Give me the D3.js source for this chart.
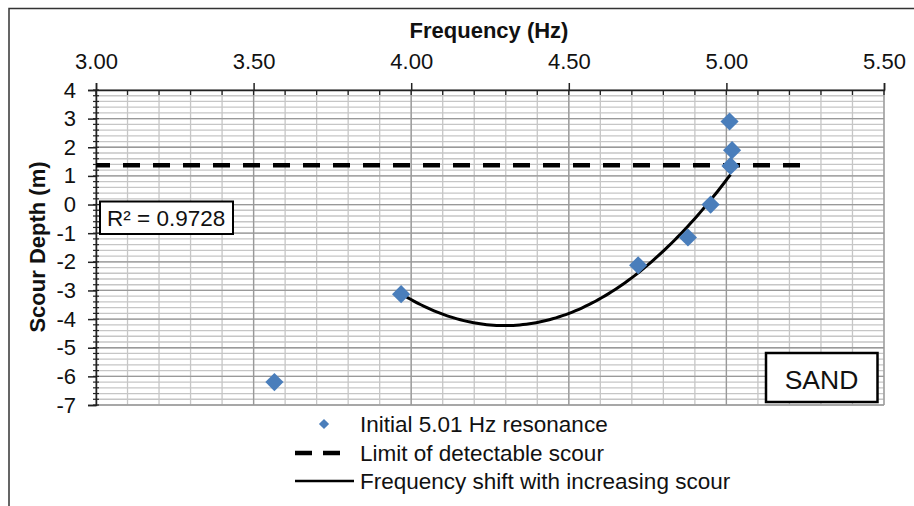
<!DOCTYPE html>
<html>
<head>
<meta charset="utf-8">
<script src="https://cdn.jsdelivr.net/npm/d3@7"></script>
<style>
  html, body { margin: 0; padding: 0; background: #fff; }
  svg { display: block; font-family: "Liberation Sans", Arial, sans-serif; }
</style>
</head>
<body>
<svg id="chart" width="914" height="506"></svg>
<script>
// Measured resonant frequency (Hz) against scour depth (m)
const frequency = [3.566, 3.968, 4.72, 4.878, 4.95, 5.013, 5.018, 5.01];
const scourDepth = [-6.2, -3.13, -2.12, -1.15, 0.0, 1.35, 1.9, 2.9];
// Points used for the quadratic trend line
const inTrend = [false, true, true, true, true, true, false, false];
const detectionLimit = 1.37;
const detectionLimitEnd = 5.25;
const rSquaredLabel = "R² = 0.9728";
const xTickLabels = ["3.00", "3.50", "4.00", "4.50", "5.00", "5.50"];
const yTickLabels = ["4", "3", "2", "1", "0", "-1", "-2", "-3", "-4", "-5", "-6", "-7"];
const legendLabels = ["Initial 5.01 Hz resonance", "Limit of detectable scour", "Frequency shift with increasing scour"];

const FONT = "Liberation Sans, Arial, sans-serif";
const svg = d3.select("#chart");
const x = d3.scaleLinear().domain([3.0, 5.5]).range([96, 884]);
const y = d3.scaleLinear().domain([-7, 4]).range([405, 90]);

// outer frame (top and left edges)
svg.append("path").attr("d", "M9,506 L9,8.5 L914,8.5").attr("fill", "none").attr("stroke", "#333").attr("stroke-width", 1.5);

const grid = svg.append("g");
// minor horizontal grid every 0.2 m
d3.range(-7, 4.0001, 0.2).forEach(v => {
  grid.append("line").attr("x1", x(3)).attr("x2", x(5.5)).attr("y1", y(v)).attr("y2", y(v))
    .attr("stroke", "#c6c6c6").attr("stroke-width", 1.3);
});
// minor vertical grid every 0.1 Hz
d3.range(3.0, 5.5001, 0.1).forEach(v => {
  grid.append("line").attr("x1", x(v)).attr("x2", x(v)).attr("y1", y(4)).attr("y2", y(-7))
    .attr("stroke", "#c6c6c6").attr("stroke-width", 1.3);
});
// major grid
d3.range(-7, 4.0001, 1).forEach(v => {
  grid.append("line").attr("x1", x(3)).attr("x2", x(5.5)).attr("y1", y(v)).attr("y2", y(v))
    .attr("stroke", "#999").attr("stroke-width", 1.3);
});
d3.range(3.0, 5.5001, 0.5).forEach(v => {
  grid.append("line").attr("x1", x(v)).attr("x2", x(v)).attr("y1", y(4)).attr("y2", y(-7))
    .attr("stroke", "#999").attr("stroke-width", 1.3);
});

// top axis
const xAxis = d3.axisTop(x).tickValues(d3.range(3.0, 5.5001, 0.5)).tickSize(7)
  .tickFormat((d, i) => xTickLabels[i]);
const gx = svg.append("g").attr("transform", `translate(0,${y(4)})`).call(xAxis);
gx.select(".domain").attr("stroke", "#222").attr("stroke-width", 1.5);
gx.selectAll(".tick line").attr("stroke", "#222").attr("stroke-width", 1.5);
gx.selectAll(".tick text").attr("font-size", 22).attr("fill", "#111").attr("dy", "0")
  .attr("font-family", FONT).attr("y", -21);
// inner minor ticks on top axis
svg.append("g").selectAll("line").data(d3.range(3.0, 5.5001, 0.1)).join("line")
  .attr("x1", d => x(d)).attr("x2", d => x(d)).attr("y1", y(4)).attr("y2", y(4) + 5)
  .attr("stroke", "#222").attr("stroke-width", 1.3);

// left axis
const yAxis = d3.axisLeft(y).tickValues(d3.range(4, -7.0001, -1)).tickSize(8)
  .tickFormat((d, i) => yTickLabels[i]);
const gy = svg.append("g").attr("transform", `translate(${x(3)},0)`).call(yAxis);
gy.select(".domain").attr("stroke", "#222").attr("stroke-width", 1.5);
gy.selectAll(".tick line").attr("stroke", "#222").attr("stroke-width", 1.5);
gy.selectAll(".tick text").attr("font-size", 22).attr("fill", "#111")
  .attr("font-family", FONT).attr("x", -20);
svg.append("g").selectAll("line").data(d3.range(-7, 4.0001, 0.2)).join("line")
  .attr("x1", x(3) - 3).attr("x2", x(3) + 3).attr("y1", d => y(d)).attr("y2", d => y(d))
  .attr("stroke", "#222").attr("stroke-width", 1.2);

// axis titles
svg.append("text").attr("x", 489).attr("y", 38).attr("text-anchor", "middle")
  .attr("font-size", 22).attr("font-weight", "bold").attr("fill", "#111").text("Frequency (Hz)");
svg.append("text").attr("transform", "translate(45,247) rotate(-90)").attr("text-anchor", "middle")
  .attr("font-size", 22).attr("font-weight", "bold").attr("fill", "#111").text("Scour Depth (m)");

// detection limit
svg.append("line").attr("x1", x(3)).attr("x2", x(detectionLimitEnd))
  .attr("y1", y(detectionLimit)).attr("y2", y(detectionLimit))
  .attr("stroke", "#000").attr("stroke-width", 4.5).attr("stroke-dasharray", "17,13")
  .attr("stroke-dashoffset", 3);

// least-squares quadratic trend through the selected points
const pts = frequency.map((f, i) => [f, scourDepth[i]]).filter((p, i) => inTrend[i]);
function quadFit(p) {
  let s = [0, 0, 0, 0, 0], t = [0, 0, 0];
  p.forEach(([a, b]) => {
    for (let k = 0; k < 5; k++) s[k] += Math.pow(a, k);
    for (let k = 0; k < 3; k++) t[k] += b * Math.pow(a, k);
  });
  const M = [[s[0], s[1], s[2], t[0]], [s[1], s[2], s[3], t[1]], [s[2], s[3], s[4], t[2]]];
  for (let i = 0; i < 3; i++) {
    for (let j = i + 1; j < 3; j++) {
      const f = M[j][i] / M[i][i];
      for (let k = i; k < 4; k++) M[j][k] -= f * M[i][k];
    }
  }
  const c = [0, 0, 0];
  for (let i = 2; i >= 0; i--) {
    let v = M[i][3];
    for (let k = i + 1; k < 3; k++) v -= M[i][k] * c[k];
    c[i] = v / M[i][i];
  }
  return c;
}
const coef = quadFit(pts);
const fMin = d3.min(pts, p => p[0]), fMax = d3.max(pts, p => p[0]);
const trend = d3.range(0, 101).map(i => {
  const f = fMin + (fMax - fMin) * i / 100;
  return [f, coef[0] + coef[1] * f + coef[2] * f * f];
});
svg.append("path").datum(trend)
  .attr("d", d3.line().x(d => x(d[0])).y(d => y(d[1])))
  .attr("fill", "none").attr("stroke", "#000").attr("stroke-width", 3);

// measured points
const diamond = d3.symbol().type(d3.symbolSquare).size(165);
svg.append("g").selectAll("path").data(frequency).join("path")
  .attr("d", diamond)
  .attr("transform", (d, i) => `translate(${x(d)},${y(scourDepth[i])}) rotate(45)`)
  .attr("fill", "#4a7ebb");

// R² label
svg.append("rect").attr("x", 100).attr("y", 201.5).attr("width", 133).attr("height", 32.5)
  .attr("fill", "#fff").attr("stroke", "#000").attr("stroke-width", 2);
svg.append("text").attr("x", 107).attr("y", 226).attr("font-size", 22.5).attr("fill", "#111").text(rSquaredLabel);

// soil type label
svg.append("rect").attr("x", 766).attr("y", 353).attr("width", 111.5).attr("height", 49)
  .attr("fill", "#fff").attr("stroke", "#000").attr("stroke-width", 2.5);
svg.append("text").attr("x", 821.5).attr("y", 388.5).attr("text-anchor", "middle")
  .attr("font-size", 26.5).attr("fill", "#111").text("SAND");

// legend
const lg = svg.append("g");
const rows = [424, 453, 481];
lg.append("path").attr("d", d3.symbol().type(d3.symbolSquare).size(52))
  .attr("transform", `translate(324,${rows[0]}) rotate(45)`).attr("fill", "#4a7ebb");
lg.append("line").attr("x1", 295).attr("x2", 340).attr("y1", rows[1]).attr("y2", rows[1])
  .attr("stroke", "#000").attr("stroke-width", 4.5).attr("stroke-dasharray", "17,11");
lg.append("line").attr("x1", 295).attr("x2", 354).attr("y1", rows[2]).attr("y2", rows[2])
  .attr("stroke", "#000").attr("stroke-width", 2.5);
lg.selectAll("text").data(legendLabels).join("text")
  .attr("x", 360).attr("y", (d, i) => rows[i] + 8)
  .attr("font-size", 22.5).attr("fill", "#111").text(d => d);
</script>
</body>
</html>
